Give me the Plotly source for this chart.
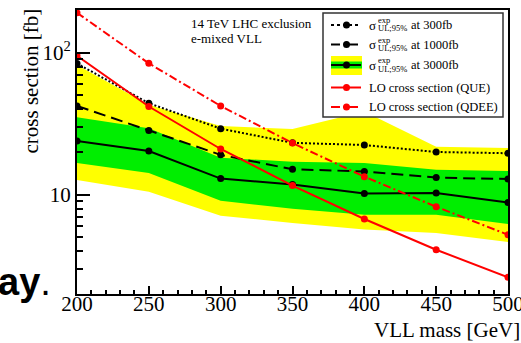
import plotly.graph_objects as go

mass = [200, 250, 300, 350, 400, 450, 500]
exp_300 = [84, 44.1, 29.2, 23.2, 22.4, 20.0, 19.6]
exp_1000 = [42.2, 28.3, 19.1, 15.1, 14.6, 13.2, 12.9]
exp_3000 = [23.9, 20.3, 13.0, 11.8, 10.2, 10.3, 8.83]
band1_up = [35.2, 29.4, 18.2, 17.1, 16.7, 15.0, 14.7]
band1_dn = [16.7, 14.2, 9.08, 7.96, 7.23, 7.23, 6.23]
band2_up = [82, 43, 30.5, 29.0, 38.5, 21.8, 21.3]
band2_dn = [12.7, 10.5, 7.12, 6.33, 5.68, 5.38, 4.65]
lo_que = [95.3, 41.8, 21.0, 11.6, 6.75, 4.10, 2.62]
lo_qdee = [191, 84.2, 42.2, 23.1, 13.4, 8.23, 5.23]

legend_labels = [
    "at 300fb", "at 1000fb", "at 3000fb",
    "LO cross section (QUE)", "LO cross section (QDEE)",
]

W, H = 521, 343
L, R, T, B = 77, 508, 10, 294
SERIF = "Liberation Serif"

def px(x):
    return (x - L) / (R - L)

def py(y):
    return (B - y) / (B - T)

YELLOW = "#ffff00"
GREEN = "#00ee00"
RED = "#ff0000"

fig = go.Figure()
fig.add_trace(go.Scatter(x=mass + mass[::-1], y=band2_up + band2_dn[::-1],
                         fill="toself", fillcolor=YELLOW, line=dict(width=0),
                         mode="lines", hoverinfo="skip"))
fig.add_trace(go.Scatter(x=mass + mass[::-1], y=band1_up + band1_dn[::-1],
                         fill="toself", fillcolor=GREEN, line=dict(width=0),
                         mode="lines", hoverinfo="skip"))

mk = dict(size=7, symbol="circle")
fig.add_trace(go.Scatter(x=mass, y=exp_300, mode="lines+markers",
                         line=dict(color="black", width=2, dash="2px,2px"),
                         marker=dict(color="black", **mk)))
fig.add_trace(go.Scatter(x=mass, y=exp_1000, mode="lines+markers",
                         line=dict(color="black", width=2, dash="12px,6px"),
                         marker=dict(color="black", **mk)))
fig.add_trace(go.Scatter(x=mass, y=exp_3000, mode="lines+markers",
                         line=dict(color="black", width=2),
                         marker=dict(color="black", **mk)))
fig.add_trace(go.Scatter(x=mass, y=lo_que, mode="lines+markers",
                         line=dict(color=RED, width=2),
                         marker=dict(color=RED, **mk)))
fig.add_trace(go.Scatter(x=mass, y=lo_qdee, mode="lines+markers",
                         line=dict(color=RED, width=2, dash="8px,3px,2px,3px"),
                         marker=dict(color=RED, **mk)))

shapes = []
annotations = []

def note(x, y, text, size, xanchor="left", yanchor="middle", family=SERIF, **kw):
    annotations.append(dict(xref="paper", yref="paper", x=px(x), y=py(y), text=text,
                            showarrow=False, xanchor=xanchor, yanchor=yanchor,
                            borderpad=0, font=dict(family=family, size=size, color="black"), **kw))

# legend box
lx0, lx1, ly0, ly1 = 323, 503, 13, 117
shapes.append(dict(type="rect", xref="paper", yref="paper",
                   x0=px(lx0), x1=px(lx1), y0=py(ly1), y1=py(ly0),
                   line=dict(color="#333333", width=1.5), fillcolor="white", layer="above"))
rows = [25, 44.5, 65, 87.5, 107]
sx0, sx1, smk, tx = 331, 361, 346.5, 368
styles = [("black", "dot"), ("black", "dash"), ("black", "solid"), (RED, "solid"), (RED, "dashdot")]
for i, (yy, (col, dsh)) in enumerate(zip(rows, styles)):
    if i == 2:
        shapes.append(dict(type="rect", xref="paper", yref="paper", x0=px(331), x1=px(362),
                           y0=py(75), y1=py(56), fillcolor=YELLOW, line=dict(width=0), layer="above"))
        shapes.append(dict(type="rect", xref="paper", yref="paper", x0=px(331), x1=px(362),
                           y0=py(68.5), y1=py(61.5), fillcolor=GREEN, line=dict(width=0), layer="above"))
    shapes.append(dict(type="line", xref="paper", yref="paper", x0=px(sx0), x1=px(sx1),
                       y0=py(yy), y1=py(yy), line=dict(color=col, width=2, dash=dsh), layer="above"))
    shapes.append(dict(type="circle", xref="paper", yref="paper", x0=px(smk - 3.5), x1=px(smk + 3.5),
                       y0=py(yy + 3.5), y1=py(yy - 3.5), fillcolor=col, line=dict(color=col, width=0),
                       layer="above"))
    if i < 3:
        note(tx, yy, "σ", 13)
        note(377, yy - 5, "exp", 8.5)
        note(377, yy + 3.5, "UL;95%", 8.5)
        note(410, yy, legend_labels[i], 12.5)
    else:
        note(tx, yy, legend_labels[i], 12.5)

note(190, 23, "14 TeV LHC exclusion", 13)
note(190, 39, "e-mixed VLL", 13)
note(521, 330, "VLL mass [GeV]", 21, xanchor="right")
note(30, 8, "cross section [fb]", 21, xanchor="center", yanchor="top", textangle=-90)
note(-3, 282, "<b>ay</b>.", 38, family="Liberation Sans")

fig.update_layout(
    width=W, height=H,
    margin=dict(l=L, r=W - R, t=T, b=H - B, pad=0, autoexpand=False),
    plot_bgcolor="white", paper_bgcolor="white",
    showlegend=False,
    shapes=shapes, annotations=annotations,
    font=dict(family=SERIF, color="black"),
)
fig.update_xaxes(range=[200, 500], tickvals=[200, 250, 300, 350, 400, 450, 500],
                 ticks="inside", ticklen=8, tickwidth=1.5, tickcolor="black",
                 showline=True, linecolor="black", linewidth=2, mirror=True,
                 showgrid=False, zeroline=False, ticklabeloverflow="allow",
                 ticklabelstandoff=-10, automargin=False,
                 tickfont=dict(family=SERIF, size=21, color="black"),
                 minor=dict(tickvals=[x for x in range(210, 500, 10) if x % 50], ticks="inside",
                            ticklen=4, tickcolor="black", tickwidth=1.5))
fig.update_yaxes(type="log", range=[0.301, 2.301], tickvals=[10, 100], ticktext=["10", "10<sup>2</sup>"],
                 ticks="inside", ticklen=13, tickwidth=1.5, tickcolor="black",
                 showline=True, linecolor="black", linewidth=2, mirror=True,
                 showgrid=False, zeroline=False, automargin=False,
                 tickfont=dict(family=SERIF, size=21, color="black"),
                 minor=dict(tickvals=[3, 4, 5, 6, 7, 8, 9, 20, 30, 40, 50, 60, 70, 80, 90],
                            ticks="inside", ticklen=6, tickcolor="black", tickwidth=1.5))

fig.write_html("out.html")
